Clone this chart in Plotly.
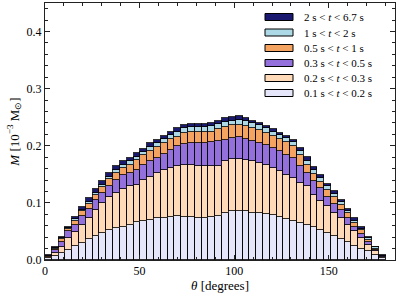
import numpy as np
import plotly.graph_objects as go

# bin edges of theta in degrees (50 bins, 3.6 deg each)
theta_edges = np.linspace(0, 180, 51)

labels = [
    "0.1 s < <i>t</i> < 0.2 s",
    "0.2 s < <i>t</i> < 0.3 s",
    "0.3 s < <i>t</i> < 0.5 s",
    "0.5 s < <i>t</i> < 1 s",
    "1 s < <i>t</i> < 2 s",
    "2 s < <i>t</i> < 6.7 s",
]
colors = ["#E6E6FA", "#FFDAB9", "#9370DB", "#F4A460", "#ADD8E6", "#191970"]

m_01_02 = [0.003, 0.007, 0.012, 0.018, 0.025, 0.030, 0.037, 0.042, 0.048, 0.053,
           0.056, 0.058, 0.061, 0.066, 0.068, 0.070, 0.073, 0.073, 0.076, 0.077,
           0.076, 0.075, 0.073, 0.074, 0.076, 0.077, 0.082, 0.085, 0.086, 0.085,
           0.083, 0.082, 0.080, 0.078, 0.076, 0.071, 0.069, 0.064, 0.061, 0.057,
           0.053, 0.047, 0.042, 0.036, 0.031, 0.025, 0.019, 0.015, 0.008, 0.003]
m_02_03 = [0.002, 0.006, 0.011, 0.020, 0.024, 0.031, 0.036, 0.046, 0.051, 0.057,
           0.061, 0.067, 0.068, 0.066, 0.072, 0.076, 0.079, 0.085, 0.085, 0.088,
           0.091, 0.092, 0.092, 0.091, 0.088, 0.087, 0.091, 0.092, 0.091, 0.090,
           0.090, 0.088, 0.087, 0.083, 0.079, 0.078, 0.074, 0.071, 0.068, 0.057,
           0.051, 0.047, 0.041, 0.037, 0.030, 0.025, 0.019, 0.012, 0.008, 0.003]
m_03_05 = [0.001, 0.005, 0.009, 0.012, 0.012, 0.016, 0.016, 0.017, 0.018, 0.020,
           0.023, 0.024, 0.023, 0.026, 0.027, 0.027, 0.026, 0.028, 0.032, 0.034,
           0.036, 0.038, 0.040, 0.040, 0.042, 0.044, 0.038, 0.036, 0.038, 0.037,
           0.036, 0.035, 0.035, 0.035, 0.035, 0.035, 0.035, 0.030, 0.023, 0.025,
           0.022, 0.016, 0.015, 0.015, 0.012, 0.008, 0.008, 0.005, 0.002, 0.0005]
m_05_1 = [0.0005, 0.002, 0.004, 0.004, 0.008, 0.008, 0.009, 0.009, 0.010, 0.012,
          0.012, 0.012, 0.015, 0.017, 0.016, 0.018, 0.020, 0.019, 0.019, 0.017,
          0.019, 0.019, 0.019, 0.019, 0.019, 0.021, 0.022, 0.023, 0.022, 0.023,
          0.022, 0.022, 0.021, 0.022, 0.022, 0.022, 0.022, 0.019, 0.015, 0.012,
          0.011, 0.013, 0.012, 0.008, 0.009, 0.007, 0.007, 0.003, 0.002, 0.0005]
m_1_2 = [0.0005, 0.001, 0.003, 0.002, 0.002, 0.003, 0.004, 0.004, 0.005, 0.004,
         0.006, 0.006, 0.006, 0.006, 0.006, 0.007, 0.007, 0.007, 0.007, 0.009,
         0.009, 0.009, 0.009, 0.009, 0.009, 0.009, 0.008, 0.008, 0.009, 0.009,
         0.009, 0.009, 0.008, 0.007, 0.007, 0.007, 0.006, 0.006, 0.007, 0.006,
         0.006, 0.006, 0.005, 0.005, 0.004, 0.004, 0.002, 0.003, 0.002, 0.0005]
m_2_67 = [0.001, 0.002, 0.002, 0.002, 0.004, 0.004, 0.006, 0.006, 0.007, 0.006,
          0.006, 0.006, 0.005, 0.006, 0.005, 0.006, 0.006, 0.006, 0.006, 0.006,
          0.006, 0.006, 0.006, 0.006, 0.006, 0.006, 0.008, 0.007, 0.006, 0.005,
          0.004, 0.004, 0.004, 0.004, 0.004, 0.005, 0.005, 0.006, 0.006, 0.006,
          0.005, 0.004, 0.005, 0.004, 0.003, 0.004, 0.003, 0.003, 0.001, 0.001]

series = [m_01_02, m_02_03, m_03_05, m_05_1, m_1_2, m_2_67]

centers = 0.5 * (theta_edges[:-1] + theta_edges[1:])
widths = np.diff(theta_edges)

FONT = "Liberation Serif"

fig = go.Figure()
for lab, col, vals in zip(labels, colors, series):
    fig.add_trace(go.Bar(
        x=centers, y=vals, width=widths, name=lab,
        marker=dict(color=col, line=dict(color="rgba(0,0,0,0.8)", width=1)),
        showlegend=False, hoverinfo="skip",
    ))

# manual legend (wide rectangular patches like matplotlib)
L, R, T, B = 45, 395, 3, 260
W, H = R - L, B - T
row_cy = [17, 32.5, 48, 63, 78, 93]
for i, k in enumerate(range(len(labels) - 1, -1, -1)):
    cy = row_cy[i]
    fig.add_shape(type="rect", xref="paper", yref="paper",
                  x0=(265 - L) / W, x1=(293 - L) / W,
                  y0=(B - (cy + 3.5)) / H, y1=(B - (cy - 3.5)) / H,
                  fillcolor=colors[k], line=dict(color="black", width=1))
    fig.add_annotation(xref="paper", yref="paper", x=(302 - L) / W, y=(B - cy) / H,
                       text=labels[k], showarrow=False, xanchor="left", yanchor="middle",
                       font=dict(family=FONT, size=11, color="black"))

axis_common = dict(
    showline=True, linecolor="#222", linewidth=1, mirror="allticks",
    ticks="inside", ticklen=5, tickwidth=1, tickcolor="#222",
    showgrid=False, zeroline=False, automargin=False,
    tickfont=dict(family=FONT, size=12, color="black"),
)

fig.update_layout(
    width=407, height=300,
    margin=dict(l=L, r=407 - R, t=T, b=300 - B),
    plot_bgcolor="white", paper_bgcolor="white",
    font=dict(family=FONT, color="black"),
    barmode="stack", bargap=0,
    xaxis=dict(range=[0, 185], tickvals=[0, 50, 100, 150],
               minor=dict(dtick=10, ticks="inside", ticklen=3, tickcolor="#222", showgrid=False),
               title=dict(text="<i>θ</i> [degrees]", font=dict(family=FONT, size=13, color="black"), standoff=2),
               **axis_common),
    yaxis=dict(range=[0, 0.45], tickvals=[0.0, 0.1, 0.2, 0.3, 0.4], tickformat=".1f",
               minor=dict(dtick=0.02, ticks="inside", ticklen=3, tickcolor="#222", showgrid=False),
               title=dict(text="<i>M</i> [10<sup>−3</sup> M<sub>⊙</sub>]", font=dict(family=FONT, size=13, color="black"), standoff=4),
               **axis_common),
)

fig.write_html("out.html", config={"displayModeBar": False},
               post_script="document.body.style.margin='0';document.body.style.padding='0';")
